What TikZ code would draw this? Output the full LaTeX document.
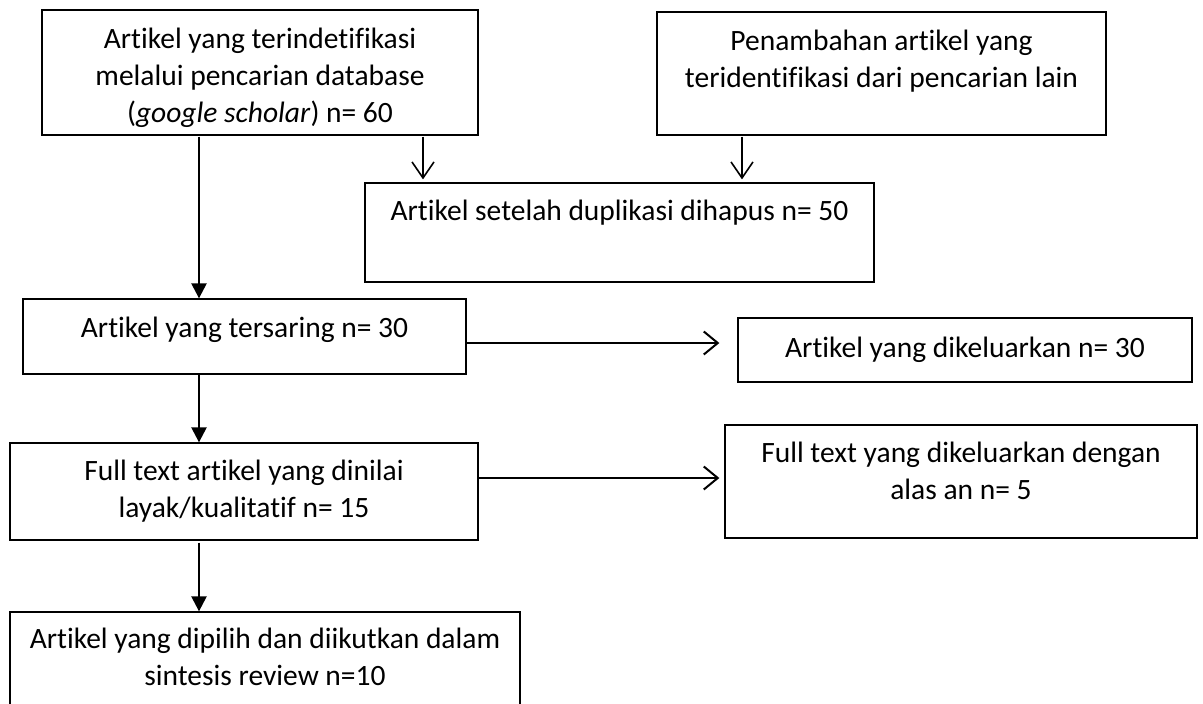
\documentclass[tikz,border=0pt]{standalone}
\usepackage{fontspec}
\setmainfont{Carlito}[Ligatures=NoCommon]
\usetikzlibrary{arrows.meta,fit}
\begin{document}
\begin{tikzpicture}[x=1pt,y=-1pt,
  box/.style={draw=black, line width=1.3pt, inner sep=0pt},
  txt/.style={align=center, inner sep=0pt, anchor=north, font=\fontsize{29.5}{37}\selectfont},
  mainarr/.style={line width=2.4pt, -{Triangle[width=15pt,length=15pt]}},
  sidearr/.style={line width=2.4pt, -{Straight Barb[width=23pt,length=14pt,line width=2pt]}},
  smallarr/.style={line width=1.6pt, -{Straight Barb[width=22pt,length=16pt,line width=1.6pt]}}]
\useasboundingbox (0,0) rectangle (1203,704);
\clip (0,0) rectangle (1203,704);
% boxes
\node[box, fit={(42,10) (478,135)}] (A) {};
\node[box, fit={(657,12) (1106,135)}] (B) {};
\node[box, fit={(365,183) (874,282)}] (C) {};
\node[box, fit={(23,299) (466,374)}] (D) {};
\node[box, fit={(738,318) (1192,382)}] (G) {};
\node[box, fit={(10,443) (478,540)}] (E) {};
\node[box, fit={(725,425) (1197,538)}] (H) {};
\node[box, fit={(10,612) (520,730)}] (F) {};
% texts
\node[txt] (tA) at (260,22.5) {\strut Artikel yang terindetifikasi\\melalui pencarian database\\(\textit{google scholar}) n= 60};
\node[txt] (tB) at (881.5,24.5) {\strut Penambahan artikel yang\\teridentifikasi dari pencarian lain};
\node[txt] (tC) at (619.5,194.5) {\strut Artikel setelah duplikasi dihapus n= 50};
\node[txt] (tD) at (244.5,311.5) {\strut Artikel yang tersaring n= 30};
\node[txt] (tG) at (965,331.5) {\strut Artikel yang dikeluarkan n= 30};
\node[txt] (tE) at (244,454.5) {\strut Full text artikel yang dinilai\\layak/kualitatif n= 15};
\node[txt] (tH) at (961,436.5) {\strut Full text yang dikeluarkan dengan\\alas an n= 5};
\node[txt] (tF) at (265,622.5) {\strut Artikel yang dipilih dan diikutkan dalam\\sintesis review n=10};
% connector guides
\coordinate (mx) at (199,0);
\coordinate (sx1) at (423,0);
\coordinate (sx2) at (742,0);
\coordinate (hy1) at (0,343);
\coordinate (hy2) at (0,478);
% connectors
\draw[mainarr, shorten <=1pt] (A.south -| mx) -- (D.north -| mx);
\draw[mainarr] (D.south -| mx) -- (E.north -| mx);
\draw[mainarr, shorten <=2pt] (E.south -| mx) -- (F.north -| mx);
\draw[smallarr, shorten <=1pt, shorten >=3pt] (A.south -| sx1) -- (C.north -| sx1);
\draw[smallarr, shorten <=1pt, shorten >=3pt] (B.south -| sx2) -- (C.north -| sx2);
\draw[sidearr, shorten >=18pt] (D.east |- hy1) -- (G.west |- hy1);
\draw[sidearr, shorten >=5pt] (E.east |- hy2) -- (H.west |- hy2);
\end{tikzpicture}
\end{document}
